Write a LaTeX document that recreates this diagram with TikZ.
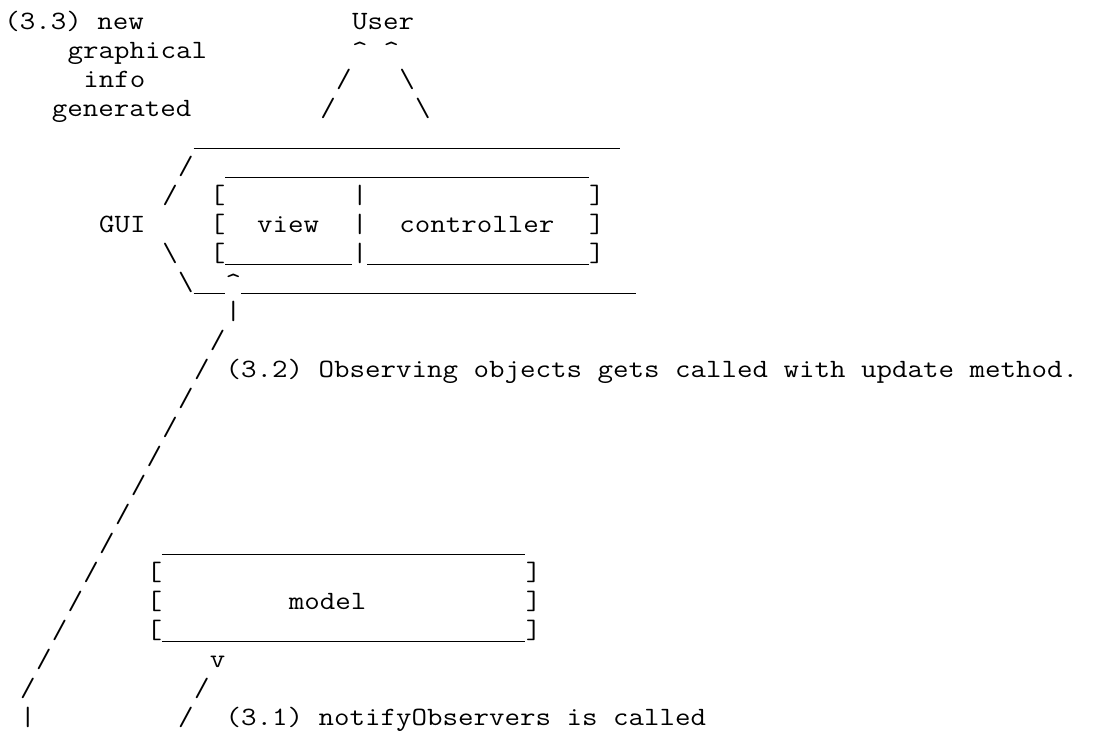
\documentclass[tikz,border=0pt]{standalone}
\usepackage{fontspec}
\begin{document}
\begin{tikzpicture}[x=7.9pt, y=-14.5pt,
    txt/.style={anchor=base west, inner sep=0pt, font=\ttfamily\fontsize{13.2}{14}\selectfont, xscale=1.14},
    rule/.style={line width=0.6pt}]
      \useasboundingbox (-0.25,0) rectangle (70,25.97);

      % Note (3.3) and the user
      \node[txt] (note33) at (0,1) {(3.3) new};
      \node[txt] (graph) at (4,2) {graphical};
      \node[txt] (info) at (5,3) {info};
      \node[txt] (gen) at (3,4) {generated};
      \node[txt] (user) at (22,1) {User};
      \node[txt] (upl) at (22,2) {\textasciicircum};
      \node[txt] (upr) at (24,2) {\textasciicircum};
      \node[txt] at (21,3) {/};
      \node[txt] at (20,4) {/};
      \node[txt] at (25,3) {\textbackslash};
      \node[txt] at (26,4) {\textbackslash};

      % GUI frame
      \draw[rule] (12,5.12) -- (39,5.12);
      \node[txt] at (11,6) {/};
      \node[txt] at (10,7) {/};
      \node[txt] (gui) at (6,8) {GUI};
      \node[txt] at (10,9) {\textbackslash};
      \node[txt] at (11,10) {\textbackslash};
      \draw[rule] (12,10.12) -- (14,10.12);
      \node[txt] (upv) at (14,10) {\textasciicircum};
      \draw[rule] (15,10.12) -- (40,10.12);

      % view and controller box
      \draw[rule] (14,6.12) -- (37,6.12);
      \foreach \r in {7,8,9} {
        \node[txt] at (13,\r) {[};
        \node[txt] at (22,\r) {|};
        \node[txt] at (37,\r) {]};
      }
      \node[txt] (view) at (16,8) {view};
      \node[txt] (ctrl) at (25,8) {controller};
      \draw[rule] (14,9.12) -- (22,9.12);
      \draw[rule] (23,9.12) -- (37,9.12);

      % Update path (3.2)
      \node[txt] at (14,11) {|};
      \foreach \r in {12,...,24}
        \node[txt] at (25-\r,\r) {/};
      \node[txt] (note32) at (14,13) {(3.2) Observing objects gets called with update method.};
      \node[txt] at (1,25) {|};

      % model box
      \draw[rule] (10,19.12) -- (33,19.12);
      \foreach \r in {20,21,22} {
        \node[txt] at (9,\r) {[};
        \node[txt] at (33,\r) {]};
      }
      \node[txt] (model) at (18,21) {model};
      \draw[rule] (10,22.12) -- (33,22.12);

      % Notify path (3.1)
      \node[txt] (dnm) at (13,23) {v};
      \node[txt] at (12,24) {/};
      \node[txt] at (11,25) {/};
      \node[txt] (note31) at (14,25) {(3.1) notifyObservers is called};
    \end{tikzpicture}
\end{document}
